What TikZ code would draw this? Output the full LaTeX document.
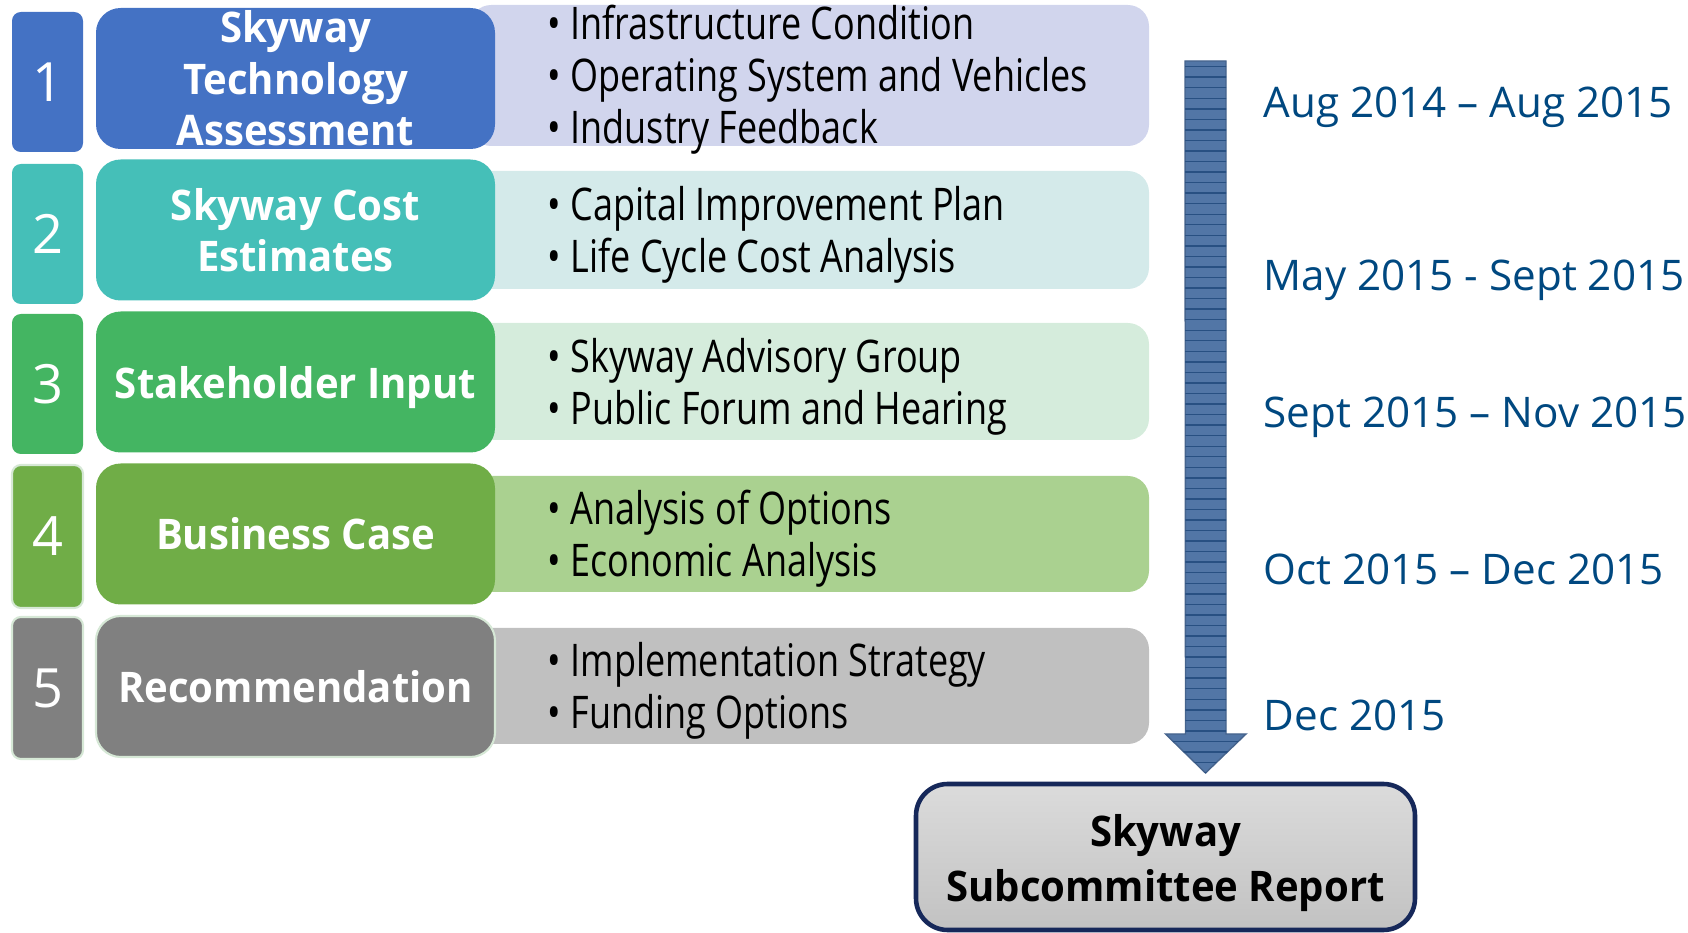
\documentclass[tikz,border=0pt]{standalone}
\usepackage{fontspec}
\setmainfont{Open Sans}
\newfontfamily\slimfont{Open Sans}[FakeStretch=0.8]
\newfontfamily\boldfont{Open Sans}[FakeStretch=0.95]
\usepackage{tikz}
\usetikzlibrary{positioning}
\usetikzlibrary{shapes}
\usetikzlibrary{patterns}

\definecolor{blueone}{RGB}{68,114,196}
\definecolor{tealtwo}{RGB}{69,191,184}
\definecolor{greenthree}{RGB}{68,181,98}
\definecolor{greenfour}{RGB}{112,173,71}
\definecolor{grayfive}{RGB}{128,128,128}
\definecolor{infoone}{RGB}{209,213,237}
\definecolor{infotwo}{RGB}{212,234,234}
\definecolor{infothree}{RGB}{213,236,220}
\definecolor{infofour}{RGB}{170,209,144}
\definecolor{infofive}{RGB}{192,192,192}
\definecolor{datecol}{RGB}{0,72,128}
\definecolor{flowcol}{RGB}{82,118,166}
\definecolor{flowline}{RGB}{40,80,130}
\definecolor{rptedge}{RGB}{22,40,90}
\definecolor{paleedge}{RGB}{214,232,214}

\begin{document}
\begin{tikzpicture}[x=1cm,y=-1cm,
  numbox/.style={rounded corners=2.5pt, minimum width=0.71cm, minimum height=1.40cm, inner sep=0pt, text=white, font=\fontsize{15.4}{16}\selectfont},
  stagebox/.style={rounded corners=7pt, minimum width=3.99cm, minimum height=1.41cm, inner sep=0pt, text=white, align=center, font=\boldfont\bfseries\fontsize{12}{14.6}\selectfont},
  infobox/.style={rounded corners=6pt, minimum width=6.79cm, inner sep=0pt},
  infotext/.style={anchor=west, align=left, inner sep=0pt, font=\slimfont\fontsize{12.8}{14.8}\selectfont},
  datetext/.style={anchor=west, inner sep=0pt, text=datecol, font=\fontsize{12}{14}\selectfont}]
  \useasboundingbox (0,0) rectangle (16.88,9.33);

  % detail boxes, under the stage boxes
  \node[infobox, fill=infoone, minimum height=1.41cm] (info1) at (8.095,0.755) {};
  \node[infobox, fill=infotwo, minimum height=1.18cm] (info2) at (8.095,2.30) {};
  \node[infobox, fill=infothree, minimum height=1.17cm] (info3) at (8.095,3.815) {};
  \node[infobox, fill=infofour, minimum height=1.16cm] (info4) at (8.095,5.34) {};
  \node[infobox, fill=infofive, minimum height=1.16cm] (info5) at (8.095,6.86) {};

  \node[infotext] (list1) at (5.47,0.80) {\textbullet\ Infrastructure Condition\\ \textbullet\ Operating System and Vehicles\\ \textbullet\ Industry Feedback};
  \node[infotext] (list2) at (5.47,2.35) {\textbullet\ Capital Improvement Plan\\ \textbullet\ Life Cycle Cost Analysis};
  \node[infotext] (list3) at (5.47,3.865) {\textbullet\ Skyway Advisory Group\\ \textbullet\ Public Forum and Hearing};
  \node[infotext] (list4) at (5.47,5.385) {\textbullet\ Analysis of Options\\ \textbullet\ Economic Analysis};
  \node[infotext] (list5) at (5.47,6.905) {\textbullet\ Implementation Strategy\\ \textbullet\ Funding Options};

  % stage boxes
  \node[stagebox, fill=blueone] (stage1) at (2.955,0.785) {Skyway\\ Technology\\ Assessment};
  \node[stagebox, fill=tealtwo] (stage2) at (2.955,2.30) {Skyway Cost\\ Estimates};
  \node[stagebox, fill=greenthree, text depth=0pt] (stage3) at (2.955,3.82) {Stakeholder Input};
  \node[stagebox, fill=greenfour] (stage4) at (2.955,5.34) {Business Case};
  \node[stagebox, fill=grayfive, draw=paleedge, line width=0.6pt] (stage5) at (2.955,6.865) {Recommendation};

  % step numbers
  \node[numbox, fill=blueone] (num1) at (0.475,0.82) {1};
  \node[numbox, fill=tealtwo] (num2) at (0.475,2.34) {2};
  \node[numbox, fill=greenthree] (num3) at (0.475,3.84) {3};
  \node[numbox, fill=greenfour, draw=paleedge, line width=0.6pt, minimum height=1.43cm] (num4) at (0.475,5.365) {4};
  \node[numbox, fill=grayfive, draw=paleedge, line width=0.6pt, minimum height=1.42cm] (num5) at (0.475,6.88) {5};

  % time line
  \coordinate (flowtop) at (12.055,0.61);
  \coordinate (flowtip) at (12.055,7.73);
  \path[fill=flowcol, draw=flowcol!85!black, line width=0.4pt]
    (flowtop) ++(-0.205,0) -- ++(0.41,0) -- ++(0,6.73) -- ++(0.2,0) -- (flowtip)
    -- ++(-0.4,-0.39) -- ++(0.2,0) -- cycle;
  \path[pattern=horizontal lines, pattern color=flowline]
    (flowtop) ++(-0.205,0) -- ++(0.41,0) -- ++(0,6.73) -- ++(0.2,0) -- (flowtip)
    -- ++(-0.4,-0.39) -- ++(0.2,0) -- cycle;

  \node[datetext] (date1) at (12.63,1.07) {Aug 2014 -- Aug 2015};
  \node[datetext] (date2) at (12.63,2.80) {May 2015 - Sept 2015};
  \node[datetext] (date3) at (12.63,4.17) {Sept 2015 -- Nov 2015};
  \node[datetext] (date4) at (12.63,5.69) {Oct 2015 -- Dec 2015};
  \node[datetext] (date5) at (12.63,7.15) {Dec 2015};

  % final report
  \node[rounded corners=9pt, draw=rptedge, line width=1.3pt, top color=gray!28, bottom color=gray!48,
    minimum width=4.99cm, minimum height=1.46cm, align=center, font=\boldfont\bfseries\fontsize{12}{15.8}\selectfont]
    (report) at (11.655,8.57) {\raisebox{-0.06cm}[\height][\depth]{Skyway}\\ \raisebox{-0.06cm}[\height][\depth]{Subcommittee Report}};
\end{tikzpicture}
\end{document}
